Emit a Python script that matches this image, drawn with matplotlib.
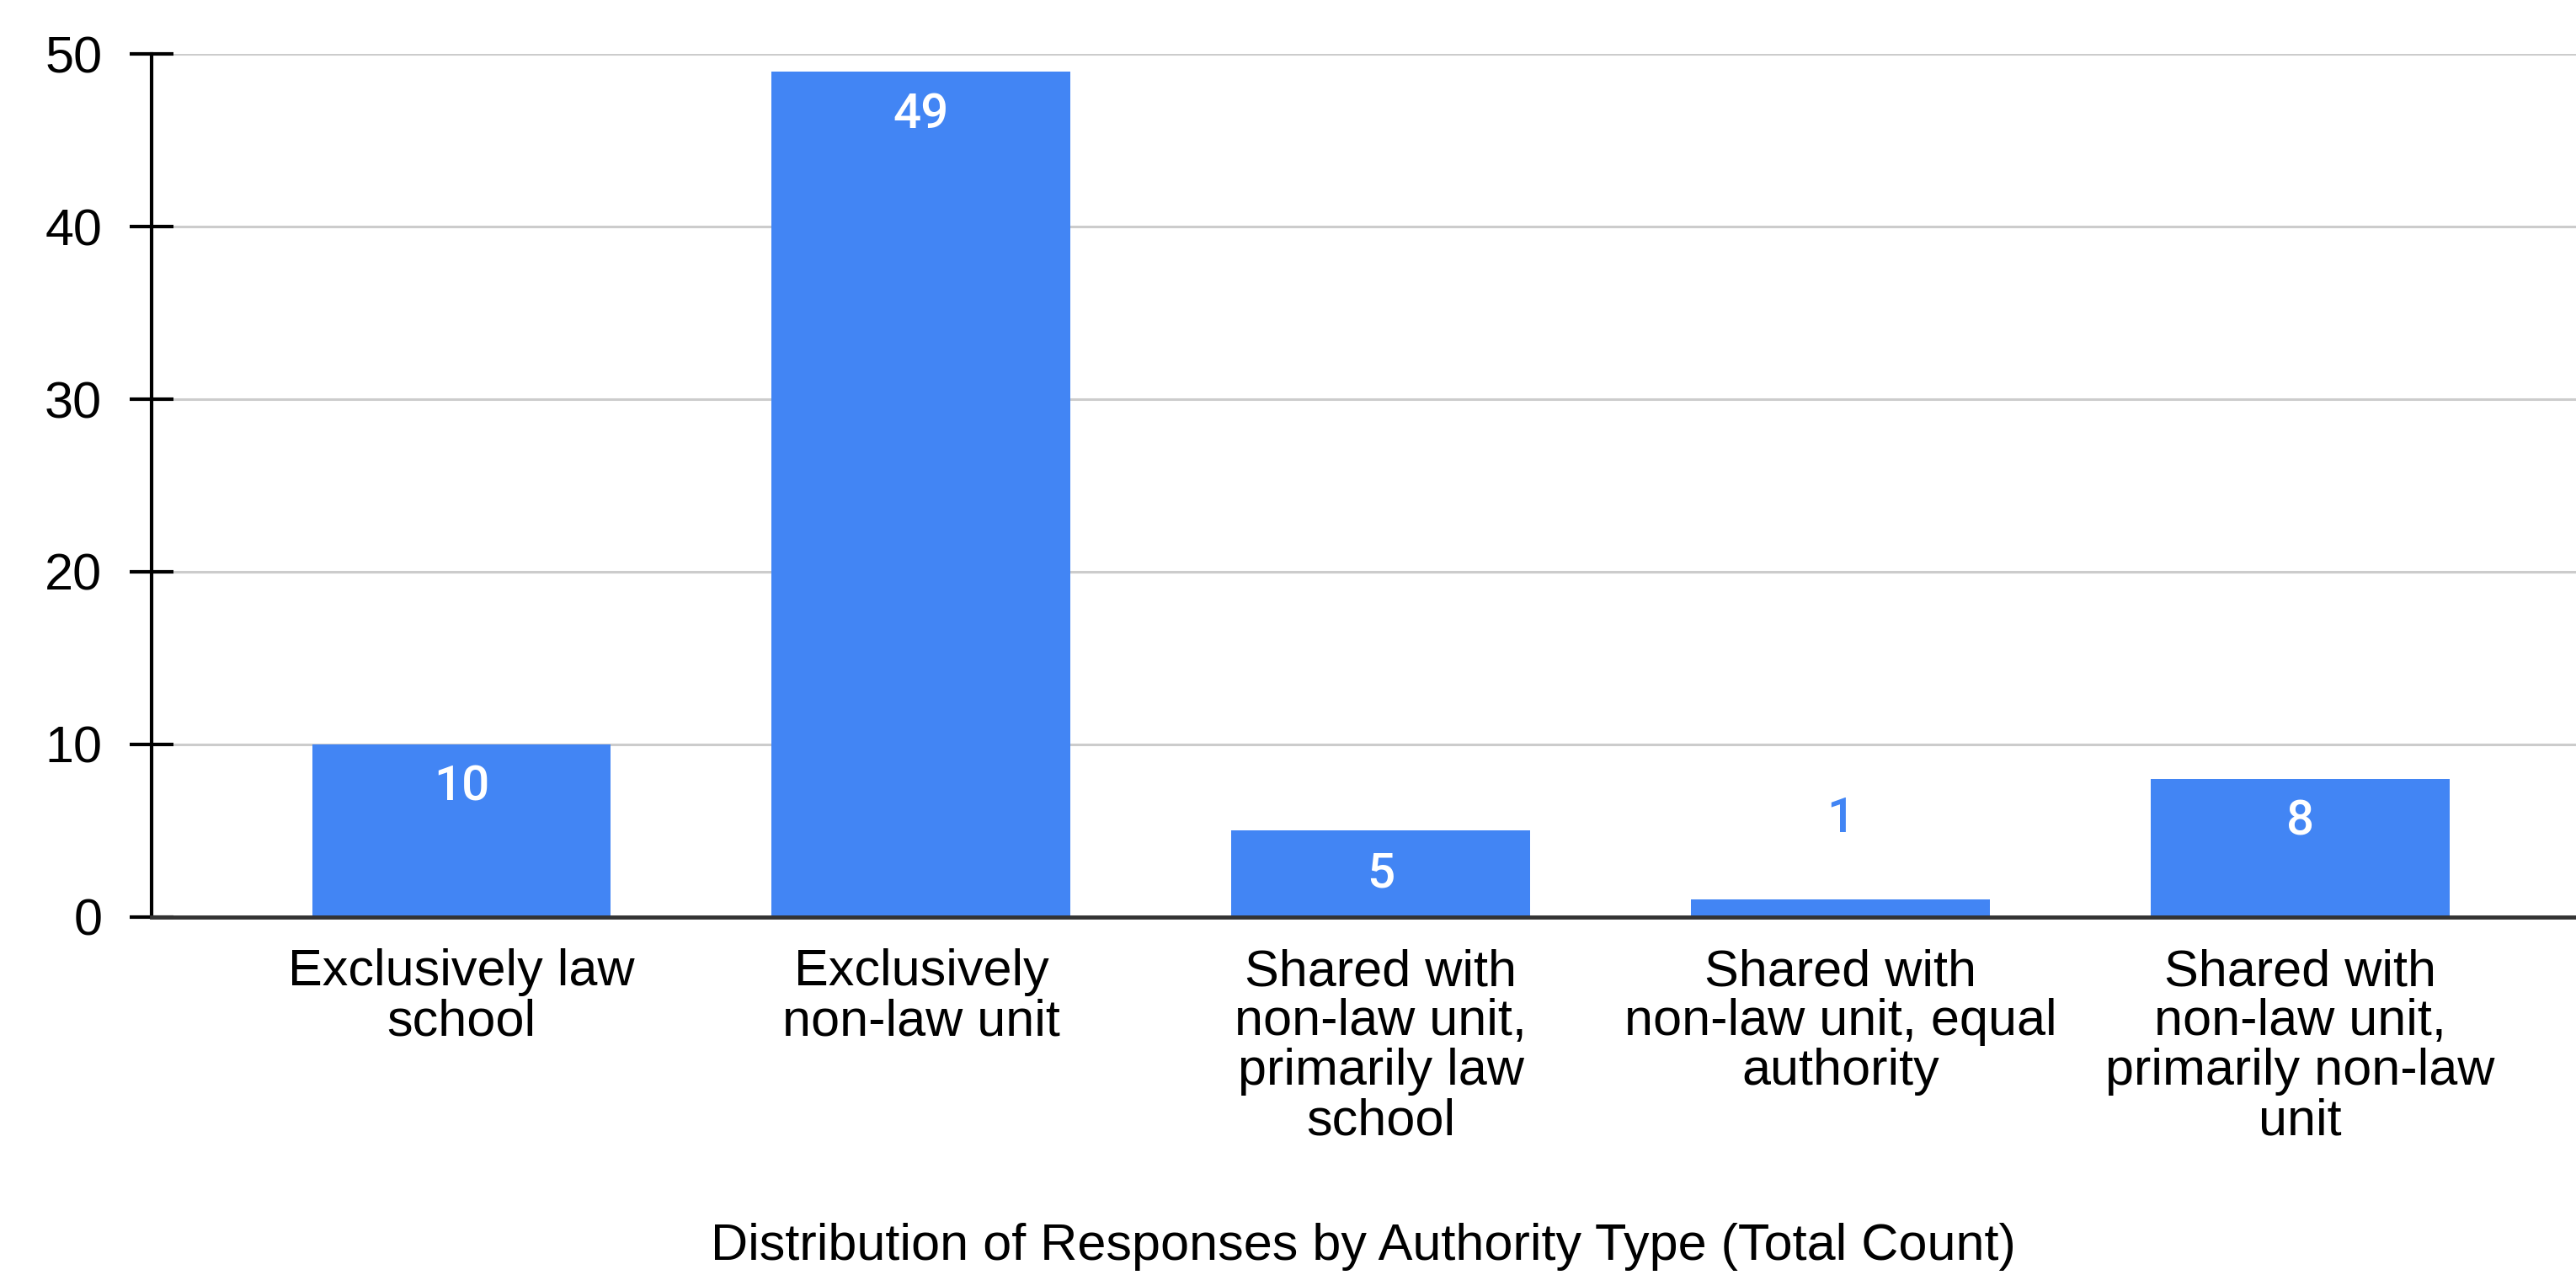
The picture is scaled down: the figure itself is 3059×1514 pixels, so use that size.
import matplotlib.pyplot as plt

# data
categories = ["Exclusively law\nschool",
              "Exclusively\nnon-law unit",
              "Shared with\nnon-law unit,\nprimarily law\nschool",
              "Shared with\nnon-law unit, equal\nauthority",
              "Shared with\nnon-law unit,\nprimarily non-law\nunit"]
counts = [10, 49, 5, 1, 8]
y_ticks = [0, 10, 20, 30, 40, 50]
x_title = "Distribution of Responses by Authority Type (Total Count)"

blue = "#4285f4"
plt.rcParams['font.family'] = ['Liberation Sans', 'DejaVu Sans']

fig = plt.figure(figsize=(30.59, 15.14), dpi=100)
ax = fig.add_axes([0.0587, 0.281, 0.9413, 0.6765])

x = list(range(len(categories)))
bars = ax.bar(x, counts, width=0.65, color=blue, zorder=3)

# value labels: inside near the top, or above in blue when the bar is too short
for xi, v in zip(x, counts):
    if v >= 3:
        ax.annotate(str(v), (xi, v), xytext=(0, -37), textcoords='offset points',
                    ha='center', va='center', color='white', fontsize=42,
                    family=['Roboto', 'DejaVu Sans'], fontweight='medium', zorder=4)
    else:
        ax.annotate(str(v), (xi, v), xytext=(0, 69), textcoords='offset points',
                    ha='center', va='center', color=blue, fontsize=42,
                    family=['Roboto', 'DejaVu Sans'], fontweight='medium', zorder=4)

ax.set_xlim(-0.675, 4.6)
ax.set_ylim(0, 50)
ax.set_yticks(y_ticks)
ax.set_xticks(x)
ax.set_xticklabels(categories, fontsize=44, linespacing=1.05)
ax.tick_params(axis='x', length=0, pad=27)
ax.tick_params(axis='y', direction='inout', length=38, width=3, pad=23, labelsize=44)

ax.yaxis.grid(True, color='#cccccc', linewidth=2.2, zorder=0)
ax.set_axisbelow(True)
for s in ['top', 'right']:
    ax.spines[s].set_visible(False)
ax.spines['left'].set_linewidth(3)
ax.spines['left'].set_color('black')
ax.spines['bottom'].set_linewidth(3.5)
ax.spines['bottom'].set_color('#333333')
ax.spines['bottom'].set_zorder(5)

fig.text(0.0587 + 0.9413 / 2, 0.003, x_title, ha='center', va='bottom', fontsize=44)

fig.savefig("out.png", dpi=100)
